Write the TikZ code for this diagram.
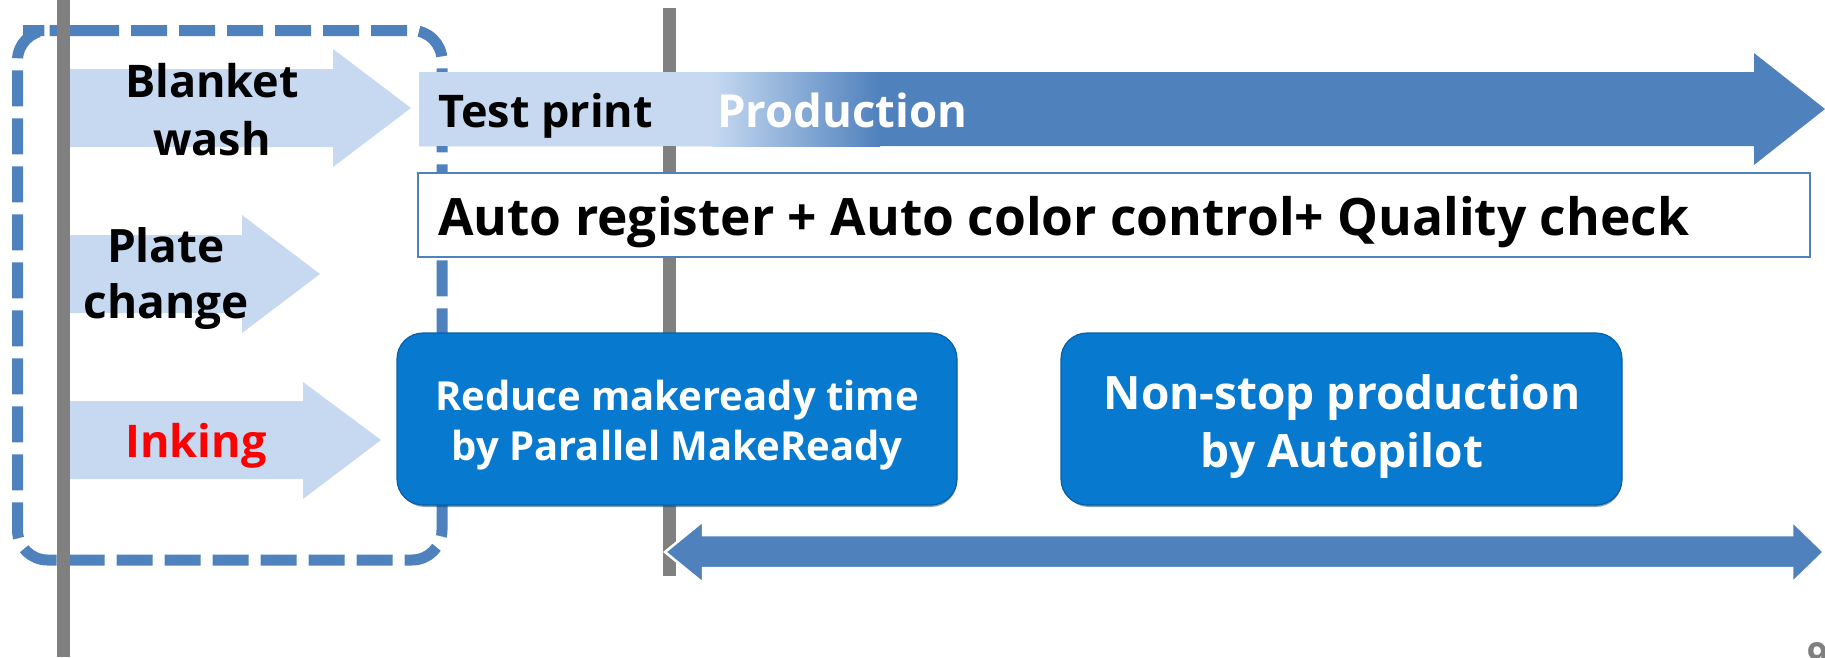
\documentclass[tikz,border=0pt]{standalone}
\usepackage{fontspec}
\setmainfont{Open Sans}
\definecolor{lightarrow}{HTML}{C6D9F1}
\definecolor{midblue}{HTML}{4F81BD}
\definecolor{boxblue}{HTML}{0779CF}
\definecolor{boxedge}{HTML}{0A5FA6}
\definecolor{grayline}{HTML}{808080}
\definecolor{inkred}{HTML}{FF0000}
\tikzset{
  lbl/.style={inner sep=0pt, font=\bfseries, align=center},
  grayrule/.style={draw=grayline, line width=13pt},
  lightshape/.style={fill=lightarrow},
  bluebox/.style={fill=boxblue, draw=boxedge, line width=1.2pt, rounded corners=26pt},
}
\begin{document}
\begin{tikzpicture}[x=1pt, y=-1pt]
\useasboundingbox (0,0) rectangle (1825,657);
% dashed group frame
\draw[midblue, line width=11pt, dash pattern=on 36pt off 12pt, rounded corners=30pt]
  (53,30.5) -- (442,30.5) -- (442,560) -- (17.5,560) -- (17.5,30.5) -- cycle;
% light step arrows
\fill[lightshape] (64,69) -- (333,69) -- (333,49) -- (411,108) -- (333,167) -- (333,147) -- (64,147) -- cycle;
\fill[lightshape] (64,235) -- (242,235) -- (242,215) -- (320,274) -- (242,333) -- (242,313) -- (64,313) -- cycle;
\fill[lightshape] (64,401) -- (303,401) -- (303,382) -- (381,440) -- (303,499) -- (303,479) -- (64,479) -- cycle;
% gray rules
\coordinate (l1) at (63.5,0);
\coordinate (l2) at (63.5,657);
\coordinate (m1) at (669.5,8);
\coordinate (m2) at (669.5,576);
\draw[grayrule] (l1) -- (l2);
\draw[grayrule] (m1) -- (m2);
% top production bar
\fill[midblue] (419,72) -- (1754,72) -- (1754,53) -- (1825,109) -- (1754,165) -- (1754,146) -- (419,146) -- cycle;
\fill[lightarrow] (419,72) rectangle (712,146);
\shade[left color=lightarrow, right color=midblue] (711.5,72) rectangle (880,146);
% auto box
\draw[fill=white, draw=midblue, line width=2pt] (418,173) rectangle (1810,257);
% blue boxes
\fill[boxedge!70!black, rounded corners=26pt, opacity=0.5] (399,336) rectangle (957,507);
\draw[bluebox] (397,333) rectangle (957,505);
\fill[boxedge!70!black, rounded corners=26pt, opacity=0.5] (1063,336) rectangle (1622,507);
\draw[bluebox] (1061,333) rectangle (1622,505);
% double arrow
\draw[fill=midblue, draw=white, line width=2.5pt, line join=miter]
  (665,552) -- (703,521) -- (703,535) -- (1792,535) -- (1792,521) -- (1824,552) -- (1792,583) -- (1792,568) -- (703,568) -- (703,583) -- cycle;
% labels
\node[lbl, anchor=base, font=\bfseries\fontsize{45}{58}\selectfont] (blanket) at (212,155) {Blanket\\wash};
\node[lbl, anchor=base, font=\bfseries\fontsize{46}{56}\selectfont] (plate) at (166,318) {Plate\\change};
\node[lbl, anchor=base, text=inkred, font=\bfseries\fontsize{45}{56}\selectfont] (inking) at (196,457) {Inking};
\node[lbl, anchor=base west, font=\bfseries\fontsize{45}{56}\selectfont] (test) at (438,127) {Test print};
\node[lbl, anchor=base west, text=white, font=\bfseries\fontsize{45.5}{56}\selectfont] (prod) at (717,127) {Production};
\node[lbl, anchor=base west, font=\bfseries\fontsize{51.5}{60}\selectfont] (auto) at (438,235) {Auto register + Auto color control+ Quality check};
\node[lbl, anchor=base, text=white, font=\bfseries\fontsize{40}{50}\selectfont] (reduce) at (677,460) {Reduce makeready time\\by Parallel MakeReady};
\node[lbl, anchor=base, text=white, font=\bfseries\fontsize{46}{58}\selectfont] (nonstop) at (1342,467) {Non-stop production\\by Autopilot};
\node[lbl, anchor=base west, text=grayline, font=\bfseries\fontsize{36}{40}\selectfont] (pagenum) at (1807,668) {9};
\end{tikzpicture}
\end{document}
